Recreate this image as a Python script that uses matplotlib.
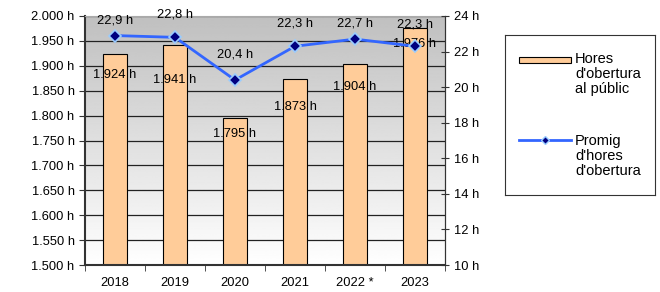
import numpy as np
import matplotlib.pyplot as plt
from matplotlib.ticker import FuncFormatter

plt.rcParams['font.family'] = ['Liberation Sans', 'DejaVu Sans']

years = ['2018', '2019', '2020', '2021', '2022 *', '2023']
hours = [1924, 1941, 1795, 1873, 1904, 1976]
avg_hours = [22.9, 22.8, 20.4, 22.3, 22.7, 22.3]
hours_labels = ['1.924 h', '1.941 h', '1.795 h', '1.873 h', '1.904 h', '1.976 h']
avg_labels = ['22,9 h', '22,8 h', '20,4 h', '22,3 h', '22,7 h', '22,3 h']

# label offsets in pixels (below bar top / above marker), as placed in the original
bar_lab_off = [21, 35, 16, 28, 23, 16]
line_lab_off = [15, 23, 26, 23, 16, 22]

FS = 9.3

fig = plt.figure(figsize=(6.6, 2.92), dpi=100)
ax = fig.add_axes([85 / 660, 27 / 292, 360 / 660, 249 / 292])

x = np.arange(len(years))

# gradient background, gray at top to white at bottom
grad = np.linspace(0.75, 1.0, 256).reshape(-1, 1)
ax.imshow(grad, cmap='gray', vmin=0, vmax=1, aspect='auto',
          extent=(-0.5, len(years) - 0.5, 1500, 2000), zorder=0)

ax.set_xlim(-0.5, len(years) - 0.5)
ax.set_ylim(1500, 2000)
ax.set_yticks(np.arange(1500, 2001, 50))
ax.yaxis.set_major_formatter(FuncFormatter(lambda v, p: f'{int(v):,} h'.replace(',', '.')))
ax.grid(axis='y', color='#222222', linewidth=0.9, zorder=1)
ax.set_axisbelow(True)

ax.bar(x, hours, width=0.4, color='#ffcc99', edgecolor='black', linewidth=0.8, zorder=2)
px = 500 / 249  # data units per pixel on the left axis
for xi, h, lab, off in zip(x, hours, hours_labels, bar_lab_off):
    ax.text(xi, h - off * px, lab, ha='center', va='center', fontsize=FS, zorder=5)

ax.set_xticks(x)
ax.set_xticklabels(years, fontsize=FS)
ax.set_xticks(np.arange(-0.5, len(years), 1), minor=True)
ax.tick_params(axis='x', which='major', length=0, pad=9)
ax.tick_params(axis='x', which='minor', length=4, direction='out', color='#333333')
ax.tick_params(axis='y', labelsize=FS, length=4, color='#333333')

ax.spines['top'].set_color('#aaaaaa')
ax.spines['left'].set_color('#333333')
ax.spines['left'].set_linewidth(1.5)
ax.spines['bottom'].set_color('#333333')
ax.spines['bottom'].set_linewidth(1.5)
ax.spines['right'].set_color('#333333')

ax2 = ax.twinx()
ax2.set_ylim(10, 24)
ax2.set_yticks(np.arange(10, 25, 2))
ax2.yaxis.set_major_formatter(FuncFormatter(lambda v, p: f'{int(v)} h'))
ax2.tick_params(axis='y', labelsize=FS, length=6, direction='inout', color='#333333')
for s in ax2.spines.values():
    s.set_visible(False)
ax2.spines['right'].set_visible(True)
ax2.spines['right'].set_color('#333333')

ax2.plot(x, avg_hours, color='#3366ff', linewidth=2, marker='D', markersize=6,
         markerfacecolor='#000080', markeredgecolor='#99ccff', markeredgewidth=1.2, zorder=3)
px2 = 14 / 249
for xi, v, lab, off in zip(x, avg_hours, avg_labels, line_lab_off):
    ax2.text(xi, v + off * px2, lab, ha='center', va='center', fontsize=FS, zorder=5)

# legend box
lax = fig.add_axes([505 / 660, 97 / 292, 150 / 660, 160 / 292])
lax.set_xlim(0, 150)
lax.set_ylim(160, 0)
lax.set_xticks([])
lax.set_yticks([])
for s in lax.spines.values():
    s.set_color('#333333')
    s.set_linewidth(0.8)
lax.add_patch(plt.Rectangle((14, 22), 52, 6, facecolor='#ffcc99', edgecolor='black', linewidth=0.8))
lax.text(70, 17, "Hores\nd'obertura\nal públic", ha='left', va='top', fontsize=10.5, linespacing=1.1)
lax.plot([14, 66], [105, 105], color='#3366ff', linewidth=2)
lax.plot([40], [105], marker='D', markersize=4, markerfacecolor='#000080',
         markeredgecolor='#99ccff', markeredgewidth=1)
lax.text(70, 99, "Promig\nd'hores\nd'obertura", ha='left', va='top', fontsize=10.5, linespacing=1.1)

fig.savefig('out.png', dpi=100)
